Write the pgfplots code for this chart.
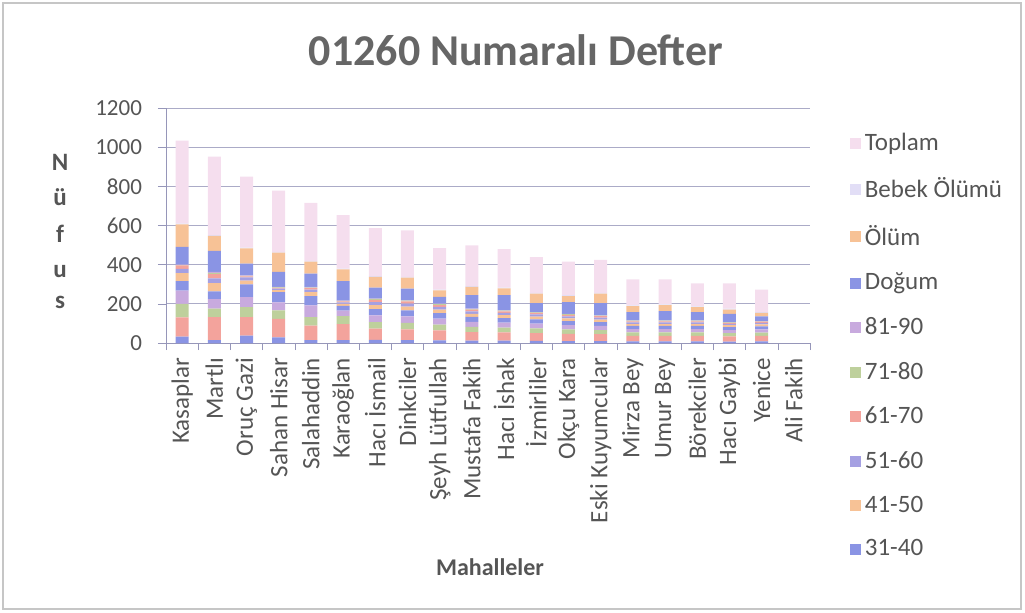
\documentclass[border=0pt]{standalone}
\usepackage{fontspec}
\setmainfont{Carlito}
\usepackage{pgfplots}
\usepackage{pgfplotstable}
\pgfplotsset{compat=1.18}

\definecolor{cBlue}{RGB}{138,148,228}
\definecolor{cRed}{RGB}{243,163,156}
\definecolor{cGreen}{RGB}{190,208,156}
\definecolor{cPurple}{RGB}{200,170,222}
\definecolor{cViolet}{RGB}{165,160,226}
\definecolor{cOrange}{RGB}{247,194,150}
\definecolor{cBebek}{RGB}{226,222,246}
\definecolor{cToplam}{RGB}{245,222,238}
\definecolor{txt}{RGB}{85,85,85}
\definecolor{axc}{RGB}{150,150,185}

% columns a..j = age groups from the bottom of each stack (a..d not in the legend)
\pgfplotstableread{
x  a  b   c  d  e  f  g  h  i j dog olum bebek toplam
0  32 99  69 68 48 41 22 17 2 2 91  115  4     424
1  15 117 44 48 39 43 24 22 6 5 107 77   4     401
2  38 94  51 51 65 19 17 5  3 2 60  78   4     363
3  29 94  43 42 52 10 8  4  2 2 77  98   4     313
4  15 74  43 60 47 21 12 8  3 3 68  61   4     297
5  15 82  40 28 25 10 8  5  2 2 99  60   4     273
6  16 57  34 34 32 20 16 11 5 2 56  55   4     245
7  15 55  33 33 30 20 15 11 4 2 60  56   4     237
8  14 50  30 30 28 18 14 10 5 2 34  34   4     211
9  12 44  26 26 25 16 12 9  3 2 69  42   4     208
10 12 42  25 25 23 15 12 8  3 2 77  35   4     196
11 11 40  24 24 22 14 11 8  3 1 46  48   4     182
12 10 37  22 22 21 14 10 8  3 2 60  31   4     172
13 10 35  21 21 20 13 10 7  3 1 63  48   4     168
14 8  29  17 17 16 10 8  6  3 1 43  30   4     133
15 8  29  17 17 16 10 8  6  3 1 48  30   4     128
16 8  29  17 17 16 10 8  6  3 1 43  25   4     117
17 7  27  16 16 15 10 7  5  2 1 43  22   4     129
18 8  28  17 17 15 10 8  6  2 1 24  18   4     115
19 0  0   0  0  0  0  0  0  0 0 0   0    0     0
}\defter

\begin{document}
\begin{tikzpicture}
% 1 px of the reference = 0.5pt
\path (0pt,0pt) rectangle (512.5pt,306pt);
\draw[gray!45,line width=0.8pt] (1.5pt,1.5pt) rectangle (510.5pt,304.5pt);
\node[font=\bfseries\fontsize{22}{24}\selectfont,text=black!60] at (258pt,281pt) {01260 Numaralı Defter};
\foreach \l/\yy in {N/225,ü/207.5,f/189,u/170,s/155}
  \node[font=\bfseries\fontsize{12.5}{13}\selectfont,text=txt] at (30pt,\yy pt) {\l};
\node[font=\bfseries\fontsize{12}{13}\selectfont,text=txt] at (245pt,22.5pt) {Mahalleler};
\begin{axis}[
  at={(83pt,134.5pt)}, anchor=south west,
  scale only axis, width=322pt, height=117.5pt,
  ybar stacked, bar width=6.5pt,
  xmin=-0.5, xmax=19.5, ymin=0, ymax=1200,
  ytick={0,200,...,1200},
  xtick={0,...,19},
  xticklabels={Kasaplar,Martlı,Oruç Gazi,Sahan Hisar,Salahaddin,Karaoğlan,Hacı İsmail,Dinkciler,Şeyh Lütfullah,Mustafa Fakih,Hacı İshak,İzmirliler,Okçu Kara,Eski Kuyumcular,Mirza Bey,Umur Bey,Börekciler,Hacı Gaybi,Yenice,Ali Fakih},
  minor xtick={-0.5,0.5,...,19.5},
  major x tick style={draw=none},
  tick align=outside, tick pos=left,
  minor tick length=3.5pt, major tick length=4pt,
  tick style={axc},
  axis x line*=bottom, axis y line*=left,
  axis line style={axc,-},
  ymajorgrids, grid style={axc!80,line width=0.5pt},
  yticklabel style={font=\fontsize{11.5}{12}\selectfont,text=txt,xshift=-4.5pt},
  xticklabel style={font=\fontsize{12.5}{13}\selectfont,text=txt,rotate=90,anchor=east},
  /pgf/number format/assume math mode=true,
  /pgf/number format/set thousands separator={},
  reverse legend,
  legend style={at={(1.052,0.93)},anchor=north west,draw=none,fill=none,
    font=\fontsize{12.5}{13}\selectfont,text=txt,row sep=8.3pt,
    /tikz/every even column/.append style={column sep=2pt}},
  legend cell align=left,
  legend image code/.code={\fill[#1,draw=none] (0pt,-2.75pt) rectangle (5.5pt,2.75pt);},
  every axis plot/.append style={draw=none},
]
\addplot[fill=cBlue,forget plot] table[x=x,y=a]{\defter};
\addplot[fill=cRed,forget plot] table[x=x,y=b]{\defter};
\addplot[fill=cGreen,forget plot] table[x=x,y=c]{\defter};
\addplot[fill=cPurple,forget plot] table[x=x,y=d]{\defter};
\addplot[fill=cBlue] table[x=x,y=e]{\defter};
\addlegendentry{31-40}
\addplot[fill=cOrange] table[x=x,y=f]{\defter};
\addlegendentry{41-50}
\addplot[fill=cViolet] table[x=x,y=g]{\defter};
\addlegendentry{51-60}
\addplot[fill=cRed] table[x=x,y=h]{\defter};
\addlegendentry{61-70}
\addplot[fill=cGreen] table[x=x,y=i]{\defter};
\addlegendentry{71-80}
\addplot[fill=cPurple] table[x=x,y=j]{\defter};
\addlegendentry{81-90}
\addplot[fill=cBlue] table[x=x,y=dog]{\defter};
\addlegendentry{Doğum}
\addplot[fill=cOrange] table[x=x,y=olum]{\defter};
\addlegendentry{Ölüm}
\addplot[fill=cBebek] table[x=x,y=bebek]{\defter};
\addlegendentry{Bebek Ölümü}
\addplot[fill=cToplam] table[x=x,y=toplam]{\defter};
\addlegendentry{Toplam}
\end{axis}
\end{tikzpicture}
\end{document}
